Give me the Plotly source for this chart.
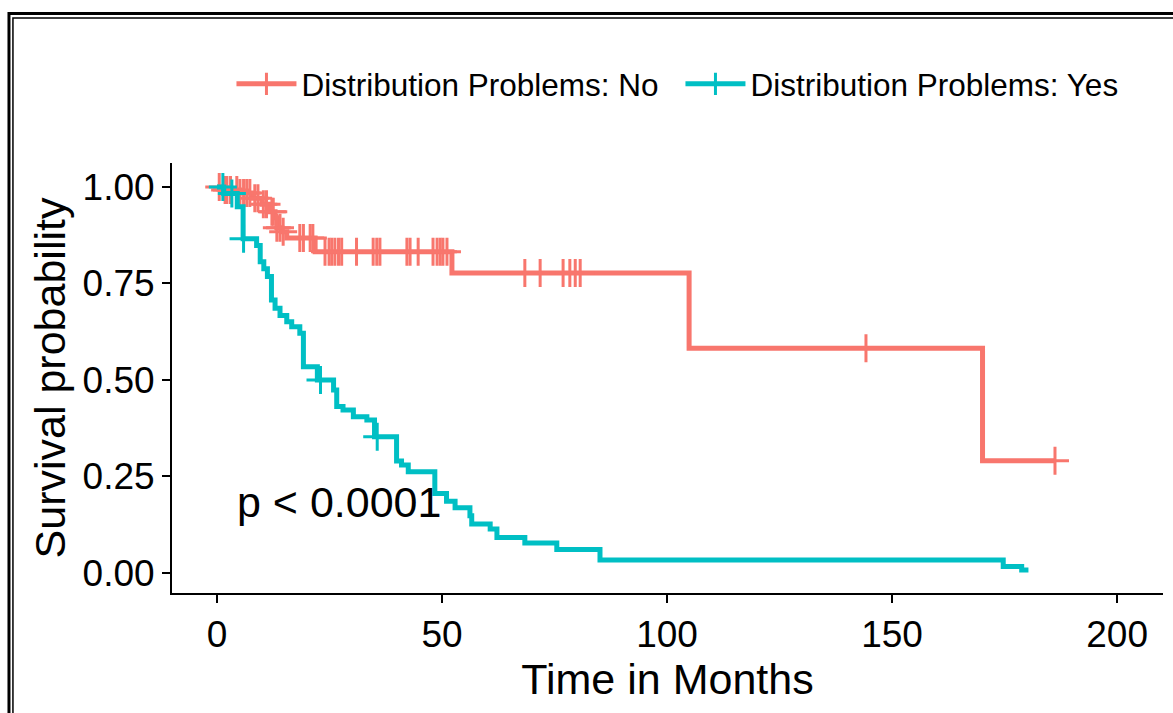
import numpy as np
import plotly.graph_objects as go

# ---- data ----
no_times = [0, 1.5, 5.0, 8.0, 10.0, 11.8, 12.9, 13.3, 14.4, 15.5, 21.8, 52.2, 104.9, 170.1]
no_surv = [1.0, 0.992, 0.984, 0.971, 0.955, 0.936, 0.92, 0.894, 0.884, 0.868, 0.832, 0.777, 0.582, 0.291]
no_end = 186.2
no_censor = [0.5, 1.8, 2.2, 3.0, 4.4, 5.1, 5.9, 6.6, 7.3, 8.4, 9.1, 10.3, 11.0, 12.2, 12.5,
             13.3, 14.0, 14.7, 18.4, 19.2, 20.7, 21.3, 24.0, 24.9, 25.5, 26.2, 27.0, 27.7,
             31.0, 34.7, 35.5, 36.2, 42.2, 42.9, 44.7, 48.0, 48.9, 49.6, 50.2, 51.1,
             68.4, 71.8, 76.9, 78.4, 79.6, 80.7, 144.2, 186.2]

yes_times = [0, 1.5, 4.5, 5.8, 8.8, 9.6, 10.4, 11.2, 12.1, 12.9, 14.0, 15.5, 16.6, 18.4, 19.2,
             22.3, 25.9, 26.6, 28.0, 30.3, 33.3, 35.0, 39.9, 41.0, 42.5, 48.4, 51.0, 52.9,
             56.2, 56.6, 60.7, 62.2, 68.4, 75.5, 85.1, 174.7, 178.8]
yes_surv = [1.0, 0.983, 0.949, 0.866, 0.848, 0.806, 0.788, 0.768, 0.707, 0.686, 0.667, 0.651,
            0.638, 0.621, 0.534, 0.50, 0.474, 0.431, 0.422, 0.405, 0.396, 0.353, 0.290, 0.280,
            0.262, 0.206, 0.186, 0.169, 0.148, 0.127, 0.114, 0.092, 0.078, 0.061, 0.034,
            0.017, 0.008]
yes_end = 180.3
yes_censor = [1.3, 3.3, 5.9, 23.0, 35.6]

x_ticks = [0, 50, 100, 150, 200]
y_ticks = [0.0, 0.25, 0.5, 0.75, 1.0]

RED = "#F8766D"
TEAL = "#00BFC4"
FONT = "Liberation Sans, Arial, sans-serif"


def step_at(times, surv, t):
    idx = np.searchsorted(np.array(times), np.array(t), side="right") - 1
    return list(np.array(surv)[idx])


fig = go.Figure()
for name, times, surv, end, cens, col in [
    ("Distribution Problems: No", no_times, no_surv, no_end, no_censor, RED),
    ("Distribution Problems: Yes", yes_times, yes_surv, yes_end, yes_censor, TEAL),
]:
    xs = list(times) + [end]
    ys = list(surv) + [surv[-1]]
    fig.add_trace(go.Scatter(
        x=xs, y=ys, mode="lines", line=dict(color=col, width=5, shape="hv"),
        name=name, legendgroup=name, showlegend=False, hoverinfo="skip"))
    fig.add_trace(go.Scatter(
        x=cens, y=step_at(times, surv, cens), mode="markers",
        marker=dict(symbol="cross-thin", size=20, line=dict(color=col, width=3)),
        name=name, legendgroup=name, showlegend=False))
    # legend entry
    fig.add_trace(go.Scatter(
        x=[None], y=[None], mode="lines+markers", name=name,
        line=dict(color=col, width=5),
        marker=dict(symbol="cross-thin", size=20, line=dict(color=col, width=3)),
        legendgroup=name, showlegend=True))

fig.add_annotation(x=4, y=0.185, xref="x", yref="y", text="p < 0.0001",
                   showarrow=False, xanchor="left", yanchor="middle",
                   font=dict(family=FONT, size=43, color="black"))

# double frame around the figure
fig.add_shape(type="rect", xref="paper", yref="paper",
              x0=-0.1645, x1=1.2, y0=-0.5, y1=1.3477,
              line=dict(color="black", width=3), fillcolor="rgba(0,0,0,0)", layer="above")
fig.add_shape(type="rect", xref="paper", yref="paper",
              x0=-0.1605, x1=1.2, y0=-0.5, y1=1.3372,
              line=dict(color="black", width=1.5), fillcolor="rgba(0,0,0,0)", layer="above")

fig.update_layout(
    width=1173, height=713,
    margin=dict(l=172, r=10, t=163, b=120, autoexpand=False),
    paper_bgcolor="white", plot_bgcolor="white",
    font=dict(family=FONT, color="black"),
    showlegend=True,
    legend=dict(orientation="h", x=0.060, xanchor="left", y=1.184, yanchor="middle",
                font=dict(family=FONT, size=31.5, color="black"),
                itemwidth=60,
                entrywidth=374, entrywidthmode="pixels", bgcolor="rgba(0,0,0,0)"),
    xaxis=dict(range=[-10, 210.2], tickvals=x_ticks, ticktext=[str(v) for v in x_ticks],
               automargin=False,
               showgrid=False, zeroline=False, showline=True, linecolor="black", linewidth=2,
               ticks="outside", ticklen=8, tickwidth=2, tickcolor="black",
               tickfont=dict(family=FONT, size=37, color="black"),
               title=dict(text="Time in Months", font=dict(family=FONT, size=43, color="black"),
                          standoff=6)),
    yaxis=dict(range=[-0.0518, 1.062], tickvals=y_ticks, ticktext=[f"{v:.2f}" for v in y_ticks],
               automargin=False,
               showgrid=False, zeroline=False, showline=True, linecolor="black", linewidth=2,
               ticks="outside", ticklen=8, tickwidth=2, tickcolor="black",
               tickfont=dict(family=FONT, size=37, color="black"),
               title=dict(text="Survival probability", font=dict(family=FONT, size=43, color="black"),
                          standoff=4)),
)

fig.write_html("out.html", config={"displayModeBar": False},
               post_script="document.body.style.margin='0';")
